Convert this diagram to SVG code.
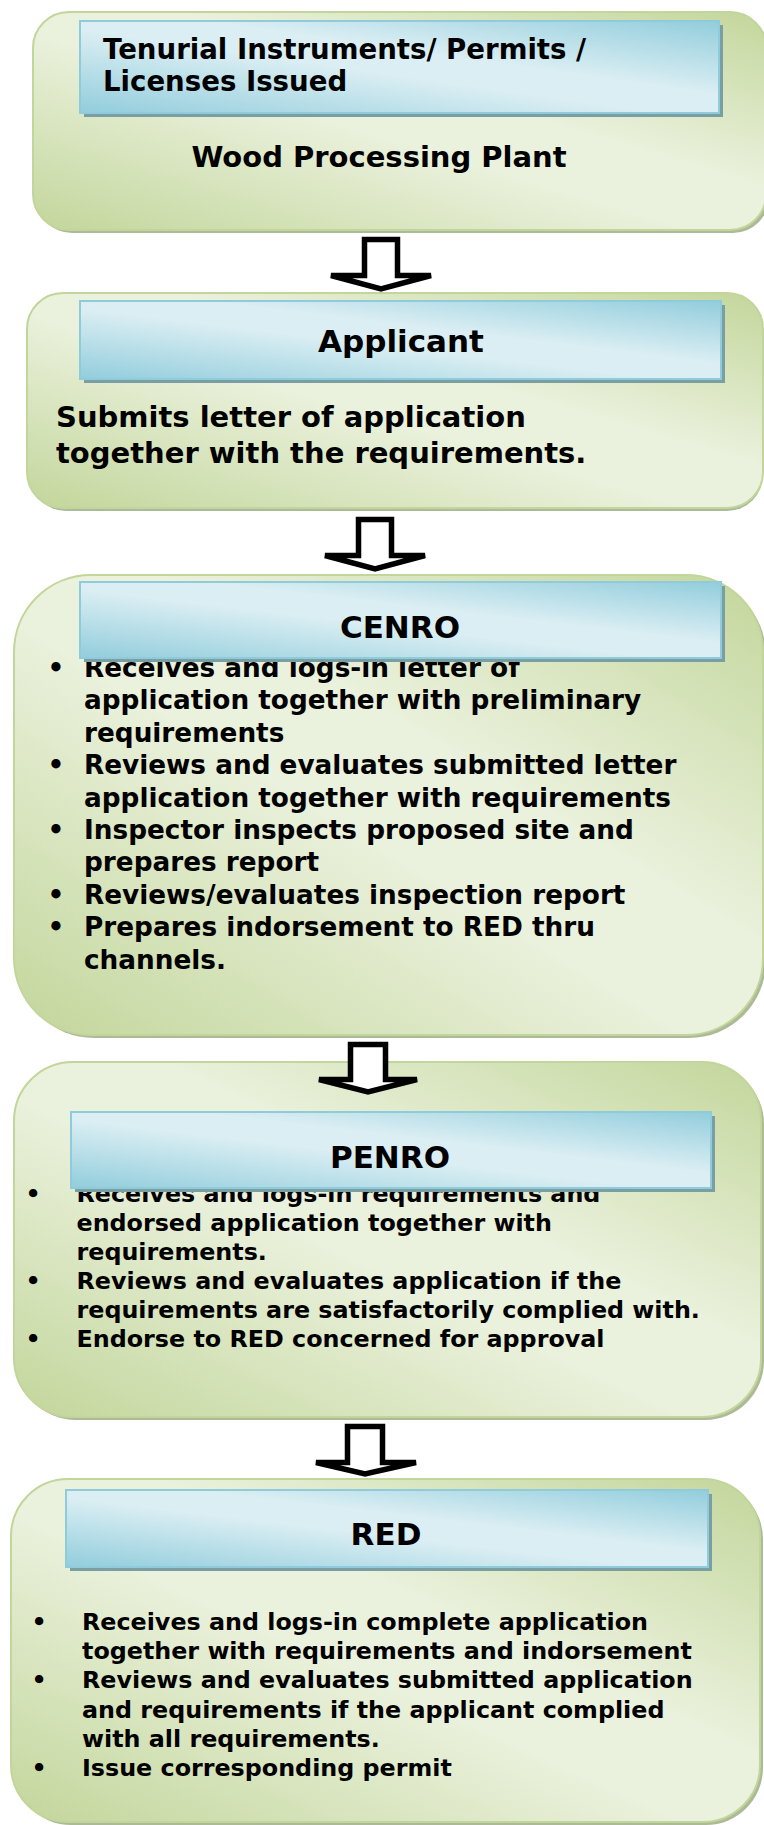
<svg xmlns="http://www.w3.org/2000/svg" width="764" height="1825" viewBox="0 0 764 1825">
<style>
.box{fill:url(#gGreen);stroke:#C2D59A;stroke-width:2}
.bshadow{fill:#9FAE86;opacity:0.85}
.hdr{fill:url(#gBlue);stroke:#8FCBDB;stroke-width:2}
.hshadow{fill:#7A9FA2}
text{font-family:"DejaVu Sans",Verdana,sans-serif;font-weight:bold;fill:#000}
.h{font-size:31px;text-anchor:middle}
.b26{font-size:26.3px}
.b24{font-size:23.8px}
.dot{text-anchor:middle}
.arrow{fill:#fff;stroke:#000;stroke-width:5.5;stroke-linejoin:miter}
</style>
<defs>
<linearGradient id="gGreen" x1="0" y1="1" x2="1" y2="0">
<stop offset="0" stop-color="#C3D69B"/>
<stop offset="0.45" stop-color="#EAF1DC"/>
<stop offset="0.6" stop-color="#EAF1DC"/>
<stop offset="1" stop-color="#C3D69B"/>
</linearGradient>
<linearGradient id="gBlue" x1="0" y1="1" x2="1" y2="0">
<stop offset="0" stop-color="#92CDDC"/>
<stop offset="0.45" stop-color="#DAEEF3"/>
<stop offset="0.6" stop-color="#DAEEF3"/>
<stop offset="1" stop-color="#92CDDC"/>
</linearGradient>
</defs>

<g id="node-wpp">
<rect class="bshadow" x="36" y="15" width="733" height="218" rx="36"/>
<rect class="box" x="33" y="12" width="733" height="218" rx="36"/>
<rect class="hshadow" x="84" y="25" width="639" height="92"/>
<rect class="hdr" x="80" y="21" width="639" height="92"/>
<text x="103" y="59" style="font-size:27.6px">Tenurial Instruments/ Permits /</text>
<text x="103" y="91" style="font-size:27.6px">Licenses Issued</text>
<text x="379" y="167" style="font-size:29px;text-anchor:middle">Wood Processing Plant</text>
</g>

<g id="node-applicant">
<rect class="bshadow" x="30" y="296" width="733" height="215" rx="36"/>
<rect class="box" x="27" y="293" width="736" height="215" rx="36"/>
<rect class="hshadow" x="84" y="305" width="641" height="78"/>
<rect class="hdr" x="80" y="301" width="641" height="78"/>
<text class="h" x="401" y="352">Applicant</text>
<text x="56" y="427" style="font-size:29px">Submits letter of application</text>
<text x="56" y="463" style="font-size:29px">together with the requirements.</text>
</g>

<g id="node-cenro">
<rect class="bshadow" x="17" y="578" width="749" height="460" rx="77"/>
<rect class="box" x="14" y="575" width="749" height="460" rx="77"/>
<g class="b26">
<text class="dot" x="56" y="677">•</text>
<text x="84" y="677">Receives and logs-in letter of</text>
<text x="84" y="709.4">application together with preliminary</text>
<text x="84" y="741.8">requirements</text>
<text class="dot" x="56" y="774.2">•</text>
<text x="84" y="774.2">Reviews and evaluates submitted letter</text>
<text x="84" y="806.6">application together with requirements</text>
<text class="dot" x="56" y="839">•</text>
<text x="84" y="839">Inspector inspects proposed site and</text>
<text x="84" y="871.4">prepares report</text>
<text class="dot" x="56" y="903.8">•</text>
<text x="84" y="903.8">Reviews/evaluates inspection report</text>
<text class="dot" x="56" y="936.2">•</text>
<text x="84" y="936.2">Prepares indorsement to RED thru</text>
<text x="84" y="968.6">channels.</text>
</g>
<rect class="hshadow" x="84" y="586" width="641" height="76"/>
<rect class="hdr" x="80" y="582" width="641" height="76"/>
<text class="h" x="400" y="638">CENRO</text>
</g>

<g id="node-penro">
<rect class="bshadow" x="17" y="1065" width="747" height="355" rx="59"/>
<rect class="box" x="14" y="1062" width="747" height="355" rx="59"/>
<g class="b24">
<text class="dot" x="33" y="1202">•</text>
<text x="76.5" y="1202">Receives and logs-in requirements and</text>
<text x="76.5" y="1231">endorsed application together with</text>
<text x="76.5" y="1260">requirements.</text>
<text class="dot" x="33" y="1289">•</text>
<text x="76.5" y="1289">Reviews and evaluates application if the</text>
<text x="76.5" y="1318">requirements are satisfactorily complied with.</text>
<text class="dot" x="33" y="1347">•</text>
<text x="76.5" y="1347">Endorse to RED concerned for approval</text>
</g>
<rect class="hshadow" x="75" y="1116" width="640" height="76"/>
<rect class="hdr" x="71" y="1112" width="640" height="76"/>
<text class="h" x="390" y="1168">PENRO</text>
</g>

<g id="node-red">
<rect class="bshadow" x="14" y="1482" width="749" height="343" rx="57"/>
<rect class="box" x="11" y="1479" width="749" height="343" rx="57"/>
<rect class="hshadow" x="70" y="1494" width="642" height="77"/>
<rect class="hdr" x="66" y="1490" width="642" height="77"/>
<text class="h" x="386" y="1545">RED</text>
<g class="b24">
<text class="dot" x="39" y="1630">•</text>
<text x="82" y="1630">Receives and logs-in complete application</text>
<text x="82" y="1659.2">together with requirements and indorsement</text>
<text class="dot" x="39" y="1688.4">•</text>
<text x="82" y="1688.4">Reviews and evaluates submitted application</text>
<text x="82" y="1717.6">and requirements if the applicant complied</text>
<text x="82" y="1746.8">with all requirements.</text>
<text class="dot" x="39" y="1776">•</text>
<text x="82" y="1776">Issue corresponding permit</text>
</g>
</g>

<g id="connectors">
<polygon class="arrow" points="364.5,239.5 397.5,239.5 397.5,275.5 431,275.5 381,289 331,275.5 364.5,275.5"/>
<polygon class="arrow" points="358.5,519.5 391.5,519.5 391.5,555.5 425,555.5 375,569 325,555.5 358.5,555.5"/>
<polygon class="arrow" points="350.5,1044.5 385.5,1044.5 385.5,1079.5 417,1079.5 368,1092 319,1079.5 350.5,1079.5"/>
<polygon class="arrow" points="347.5,1426.5 382.5,1426.5 382.5,1462.5 416,1462.5 365,1474 316,1462.5 347.5,1462.5"/>
</g>
</svg>
